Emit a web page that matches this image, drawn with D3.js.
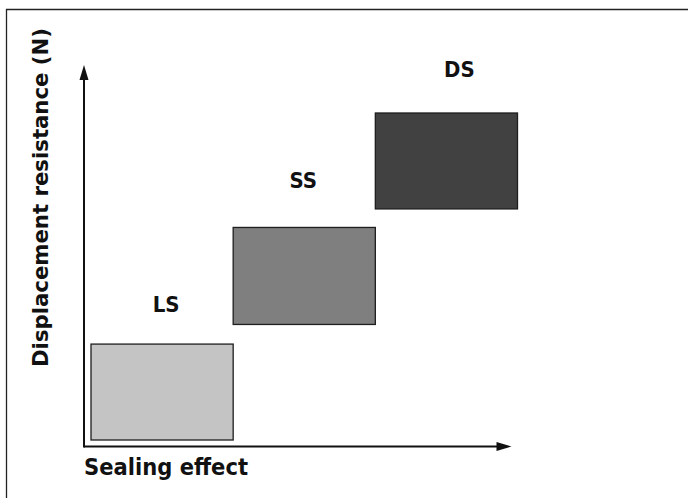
<!DOCTYPE html>
<html>
<head>
<meta charset="utf-8">
<script src="https://cdn.jsdelivr.net/npm/d3@7"></script>
<style>
  html, body { margin: 0; padding: 0; background: #fff; }
  svg { display: block; }
</style>
</head>
<body>
<script>
// ---- data ----
const categories = ["LS", "SS", "DS"];
const sealStart = [0, 1, 2];          // sealing effect (x) start
const sealEnd = [1, 2, 3];            // sealing effect (x) end
const resistLow = [0, 1.06, 2.12];    // displacement resistance low
const resistHigh = [0.88, 1.95, 3.0]; // displacement resistance high
const fills = ["#c4c4c4", "#7f7f7f", "#414141"];
const xTitle = "Sealing effect";
const yTitle = "Displacement resistance (N)";

const W = 688, H = 498;
const svg = d3.select("body").append("svg").attr("width", W).attr("height", H);

// frame (top & left lines)
svg.append("path").attr("d", `M6.5,${H} V9.5 H${W}`)
  .attr("fill", "none").attr("stroke", "#222").attr("stroke-width", 1.3);

const x = d3.scaleLinear().domain([0, 3]).range([91, 517.5]);
const y = d3.scaleLinear().domain([0, 3]).range([440, 113]);

const data = categories.map((c, i) => ({
  c, x0: sealStart[i], x1: sealEnd[i], y0: resistLow[i], y1: resistHigh[i], fill: fills[i]
}));

// rectangles
svg.selectAll("rect.box").data(data).join("rect")
  .attr("class", "box")
  .attr("x", d => x(d.x0))
  .attr("y", d => y(d.y1))
  .attr("width", d => x(d.x1) - x(d.x0))
  .attr("height", d => y(d.y0) - y(d.y1))
  .attr("fill", d => d.fill)
  .attr("stroke", "#1e1e1e")
  .attr("stroke-width", 1.3);

// labels
const labelDx = [4, -1, 13];
const labelGap = [32, 39, 36];
svg.selectAll("text.lbl").data(data).join("text")
  .attr("class", "lbl")
  .attr("x", (d, i) => (x(d.x0) + x(d.x1)) / 2 + labelDx[i])
  .attr("y", (d, i) => y(d.y1) - labelGap[i])
  .attr("text-anchor", "middle")
  .attr("font-family", "'DejaVu Sans Condensed', 'DejaVu Sans', sans-serif")
  .style("font-stretch", "condensed")
  .attr("font-weight", "bold")
  .attr("font-size", 22)
  .attr("fill", "#111")
  .text(d => d.c);

// axes
const ox = x(0) - 7, oy = y(0) + 6.5;
const xTip = x(3) - 6, yTip = y(3) - 48;
const ax = svg.append("g").attr("stroke", "#111").attr("stroke-width", 2);
ax.append("line").attr("x1", ox).attr("y1", oy).attr("x2", xTip - 12).attr("y2", oy);
ax.append("line").attr("x1", ox).attr("y1", oy + 1).attr("x2", ox).attr("y2", yTip + 12);
svg.append("path").attr("d", `M${xTip},${oy} L${xTip - 15},${oy - 4.5} L${xTip - 15},${oy + 4.5} Z`).attr("fill", "#111");
svg.append("path").attr("d", `M${ox},${yTip} L${ox - 4.5},${yTip + 15} L${ox + 4.5},${yTip + 15} Z`).attr("fill", "#111");

// axis titles
svg.append("text")
  .attr("x", ox).attr("y", 475)
  .attr("font-family", "'DejaVu Sans Condensed', 'DejaVu Sans', sans-serif")
  .style("font-stretch", "condensed")
  .attr("font-weight", "bold")
  .attr("font-size", 23)
  .attr("fill", "#111")
  .attr("textLength", 164)
  .attr("lengthAdjust", "spacingAndGlyphs")
  .text(xTitle);

svg.append("text")
  .attr("transform", "translate(48,197.5) rotate(-90)")
  .attr("text-anchor", "middle")
  .attr("font-family", "'DejaVu Sans', sans-serif")
  .attr("font-weight", "bold")
  .attr("font-size", 21)
  .attr("fill", "#111")
  .attr("textLength", 339)
  .attr("lengthAdjust", "spacingAndGlyphs")
  .text(yTitle);
</script>
</body>
</html>
